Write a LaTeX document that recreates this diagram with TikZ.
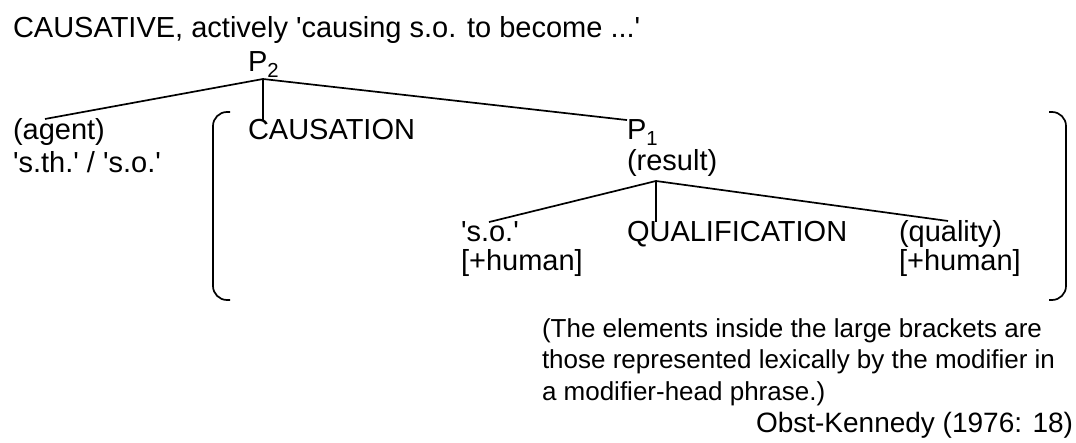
\documentclass[tikz,border=0pt]{standalone}
\usepackage{fontspec}
\setmainfont{Liberation Sans}
\usetikzlibrary{positioning,calc}
\newcommand{\sq}{\textquotesingle}

\begin{document}
\begin{tikzpicture}[x=1pt,y=-1pt,every node/.style={word},
  word/.style={anchor=base west,inner sep=0pt,outer sep=0pt,font=\fontsize{29}{33}\selectfont},
  note/.style={word,font=\fontsize{26}{31}\selectfont},
  branch/.style={line width=1.7pt},
  brace/.style={line width=1.7pt,rounded corners=14pt}]

        \useasboundingbox (0,0) rectangle (1076,443);

        \node (title) at (13,38) {CAUSATIVE, actively \sq causing s.o. to become ...\sq};
        \node (ptwo) at (248,72) {P\textsubscript{2}};

        \node (agent) at (13,140) {(agent)};
        \node (sth) at (13,173) {\sq s.th.\sq\ / \sq s.o.\sq};
        \node (causation) at (248,140) {CAUSATION};
        \node (pone) at (627,140) {P\textsubscript{1}};
        \node (result) at (627,171) {(result)};

        \node (so) at (461,242) {\sq s.o.\sq};
        \node (humanA) at (461,271) {[+human]};
        \node (qual) at (627,242) {QUALIFICATION};
        \node (quality) at (899,242) {(quality)};
        \node (humanB) at (899,271) {[+human]};

        \coordinate (vtwo) at (263,79);
        \coordinate (vone) at (656,181);
        \draw[branch] (vtwo) -- ([xshift=32pt]agent.north west);
        \draw[branch] (vtwo) -- (vtwo |- causation.north);
        \draw[branch] (vtwo) -- (pone.north west);
        \draw[branch] (vone) -- ([xshift=28pt]so.north west);
        \draw[branch] (vone) -- (vone |- qual.north);
        \draw[branch] (vone) -- ([xshift=49pt]quality.north west);

        \draw[brace] (230,112) -| (213,300) -- (230,300);
        \draw[brace] (1049,112) -| (1066,300) -- (1049,300);

        \node[note] (noteA) at (542,338) {(The elements inside the large brackets are};
        \node[note] (noteB) at (542,369) {those represented lexically by the modifier in};
        \node[note] (noteC) at (542,400) {a modifier-head phrase.)};
        \node[anchor=base east,font=\fontsize{28}{32}\selectfont] (source) at (1073,432) {Obst-Kennedy (1976: 18)};
      \end{tikzpicture}
\end{document}
